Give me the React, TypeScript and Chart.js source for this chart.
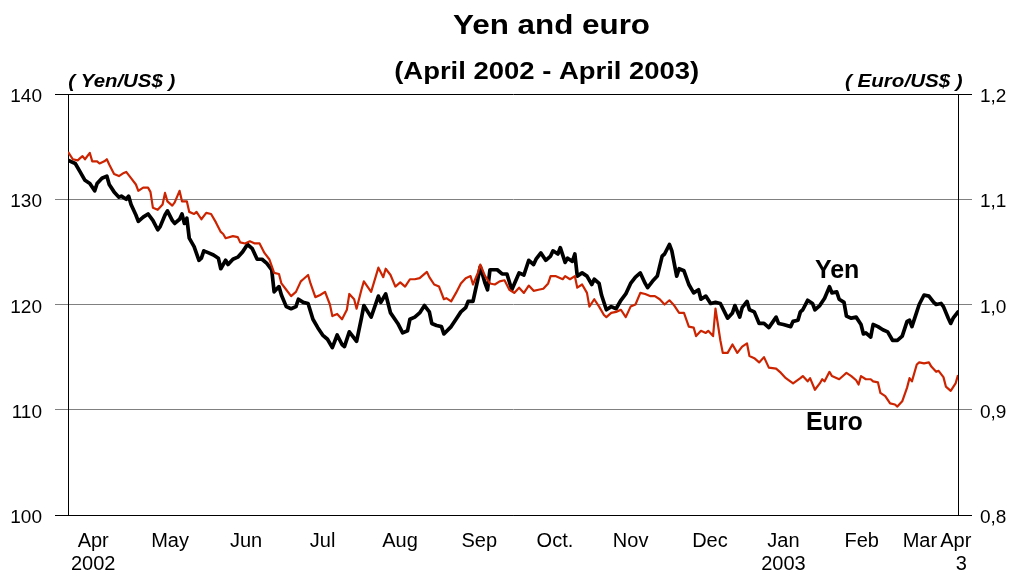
import { useEffect, useRef } from 'react';
import { Chart, registerables } from 'chart.js';

Chart.register(...registerables);

// Calendar days counted from 1 April 2002
const yenDays = [
  0, 3, 5, 7, 9, 11, 12, 14, 16, 17, 19, 21, 22, 24, 25, 26, 28, 29, 31, 33, 35, 37, 38, 40, 41, 43, 44, 46, 47, 48, 49,
  50, 52, 54, 55, 56, 58, 60, 62, 63, 65, 66, 68, 70, 72, 74, 76, 78, 80, 82, 84, 85, 87, 88, 90, 92, 94, 95, 97, 99,
  101, 103, 105, 107, 109, 111, 113, 114, 116, 118, 119, 121, 122, 125, 128, 129, 131, 133, 136, 138, 140, 141, 143,
  145, 147, 149, 150, 152, 154, 155, 158, 160, 162, 164, 165, 167, 169, 170, 172, 173, 174, 177, 179, 181, 183, 186,
  188, 190, 192, 193, 195, 197, 199, 200, 202, 203, 205, 206, 208, 209, 210, 212, 214, 216, 217, 219, 220, 222, 224,
  226, 228, 230, 232, 234, 236, 238, 239, 241, 243, 245, 246, 248, 249, 251, 252, 254, 256, 258, 260, 261, 263, 265,
  267, 269, 272, 274, 275, 277, 278, 280, 281, 283, 285, 287, 289, 292, 293, 295, 298, 299, 301, 302, 303, 305, 307,
  308, 310, 312, 314, 315, 317, 318, 320, 321, 323, 325, 327, 328, 329, 331, 332, 334, 336, 338, 340, 342, 344, 346,
  347, 348, 350, 351, 353, 355, 357, 358, 360, 361, 363, 364, 365, 367,
];
const yenPerDollar = [
  133.7, 133.4, 132.6, 131.8, 131.5, 130.8, 131.5, 132.0, 132.2, 131.4, 130.7, 130.2, 130.3, 130.0, 130.3, 129.5, 128.5,
  127.9, 128.3, 128.6, 128.0, 127.1, 127.4, 128.5, 128.9, 128.0, 127.7, 128.1, 128.6, 127.7, 128.2,
  126.3, 125.5, 124.2, 124.4, 125.1, 124.9, 124.7, 124.4, 123.4, 124.2, 123.8, 124.3, 124.5, 125.0, 125.7, 125.3, 124.3,
  124.3, 123.9, 123.3, 121.2, 121.7, 120.9, 119.8, 119.6, 119.8, 120.5, 120.2, 120.1,
  118.6, 117.8, 117.1, 116.7, 115.9, 117.1, 116.2, 116.0, 117.4, 116.8, 116.5, 118.7, 119.9, 118.8, 120.8, 120.2, 121.0,
  119.2, 118.2, 117.3, 117.5, 118.6, 118.8,
  119.2, 119.9, 119.3, 118.2, 118.0, 117.9, 117.2, 117.9, 118.6, 119.3, 119.7, 120.3, 120.3, 122.4, 123.6, 122.0, 121.4,
  123.3, 123.3, 122.9, 122.9, 121.4, 123.0,
  122.8, 124.2, 123.8, 124.3, 124.9, 124.2, 124.6, 125.1, 124.8, 125.4, 124.0, 124.4, 124.1, 124.8, 122.7, 123.0, 122.7,
  121.9, 122.4, 122.0, 120.9, 119.5, 119.8,
  119.6, 120.4, 121.0, 122.0, 122.6, 123.0, 122.0, 121.6, 122.2, 122.7, 124.6, 124.8, 125.7, 125.1, 122.7, 123.4, 123.2,
  121.9, 121.1, 121.4, 120.5, 120.8, 120.1,
  120.2, 120.1, 118.7, 119.2, 119.9, 118.8, 119.7, 120.3, 119.5, 119.3, 118.2, 118.2, 117.8, 118.8, 118.2, 118.1, 117.9,
  118.4, 118.5, 119.3, 119.5, 120.4, 120.1,
  119.5, 119.9, 120.6, 121.7, 121.1, 121.2, 120.5, 120.2, 118.9, 118.7, 118.8, 118.1, 117.2, 117.3, 116.9, 118.1, 117.9,
  117.6, 117.4, 116.6, 116.6, 117.0, 118.4,
  118.5, 117.9, 119.3, 120.0, 120.9, 120.8, 120.2, 120.0, 120.1, 119.8, 118.7, 118.2, 118.7, 119.3,
];

const euroDays = [
  0, 2, 4, 5, 6, 7, 9, 10, 12, 13, 15, 16, 17, 19, 21, 23, 24, 26, 28, 29, 31, 33, 34, 35, 37, 39, 40, 41, 43, 44, 46,
  47, 49, 50, 52, 53, 55, 57, 59, 61, 63, 64, 65, 68, 70, 71, 73, 75, 77, 79, 81, 83, 85, 87, 88, 90, 92, 94, 96, 97,
  99, 100, 102, 104, 106, 108, 109, 111, 113, 115, 116, 118, 119, 121, 122, 125, 128, 130, 131, 133, 135, 137, 139,
  141, 143, 145, 148, 149, 151, 153, 155, 156, 158, 160, 162, 164, 166, 167, 169, 170, 172, 174, 176, 178, 180, 182,
  184, 186, 188, 190, 192, 194, 196, 198, 199, 201, 204, 205, 207, 209, 210, 212, 214, 215, 217, 219, 221, 222, 224,
  226, 228, 230, 232, 234, 236, 238, 240, 242, 244, 246, 248, 250, 252, 254, 256, 258, 259, 261, 263, 264, 266, 267,
  269, 270, 272, 274, 276, 278, 280, 281, 283, 285, 287, 289, 292, 294, 296, 299, 302, 303, 305, 306, 308, 310, 311,
  312, 314, 315, 318, 320, 321, 323, 325, 326, 327, 329, 331, 332, 334, 335, 337, 339, 341, 342, 344, 346, 347, 348,
  350, 351, 353, 355, 356, 358, 359, 361, 362, 364, 366, 367,
];
const euroPerDollar = [
  1.145, 1.138, 1.137, 1.139, 1.141, 1.138, 1.144, 1.136, 1.136, 1.134, 1.136, 1.138, 1.133, 1.124, 1.122, 1.125, 1.126,
  1.12, 1.114, 1.108, 1.111, 1.111, 1.107, 1.092, 1.09, 1.095, 1.106, 1.098, 1.094, 1.097, 1.108,
  1.098, 1.098, 1.088, 1.086, 1.088, 1.081, 1.087, 1.086, 1.078, 1.069, 1.067, 1.063, 1.065, 1.064, 1.059, 1.058, 1.06,
  1.058, 1.058, 1.049, 1.043, 1.03, 1.029, 1.02, 1.014, 1.008, 1.012, 1.022, 1.024,
  1.028, 1.02, 1.007, 1.009, 1.012, 1.0, 0.989, 0.991, 0.986, 0.995, 1.01, 1.005, 0.996, 1.014, 1.022, 1.012, 1.035,
  1.026, 1.034, 1.028, 1.017, 1.021, 1.017,
  1.024, 1.024, 1.025, 1.031, 1.026, 1.019, 1.017, 1.005, 1.006, 1.003, 1.011, 1.02, 1.025, 1.027, 1.019, 1.03, 1.038,
  1.027, 1.02, 1.019, 1.022, 1.023, 1.014,
  1.011, 1.016, 1.011, 1.018, 1.013, 1.014, 1.015, 1.02, 1.027, 1.027, 1.024, 1.027, 1.024, 1.027, 1.016, 1.019, 1.011,
  0.998, 1.005, 0.998, 0.99, 0.988, 0.992,
  0.993, 0.995, 0.988, 0.998, 1.0, 1.011, 1.01, 1.008, 1.008, 1.005, 1.0, 1.004, 0.999, 0.992, 0.992, 0.979, 0.978,
  0.97, 0.975, 0.973, 0.975, 0.97, 0.996,
  0.966, 0.954, 0.954, 0.962, 0.954, 0.96, 0.963, 0.951, 0.949, 0.945, 0.95, 0.94, 0.939, 0.935, 0.93, 0.925, 0.93,
  0.932, 0.927, 0.93, 0.919, 0.925, 0.929,
  0.927, 0.936, 0.932, 0.929, 0.933, 0.935, 0.932, 0.928, 0.924, 0.932, 0.929, 0.929, 0.927, 0.926, 0.916, 0.913,
  0.906, 0.905, 0.903, 0.908, 0.921, 0.93, 0.927,
  0.943, 0.945, 0.944, 0.945, 0.941, 0.936, 0.937, 0.931, 0.922, 0.918, 0.925, 0.933,
];

const monthTickDays = [10.4, 42.1, 73.4, 105.0, 136.9, 169.6, 200.8, 232.0, 264.7, 295.0, 327.3, 351.3, 366.1];
const monthTickLabels: (string | string[])[] = [
  ['Apr', '2002'], 'May', 'Jun', 'Jul', 'Aug', 'Sep', 'Oct.', 'Nov', 'Dec', ['Jan', '2003'], 'Feb', 'Mar', ['Apr', '  3'],
];

const FONT = '"Liberation Sans", Arial, Helvetica, sans-serif';
const RED = 'rgb(204,36,0)';

function drawFitted(
  ctx: CanvasRenderingContext2D,
  text: string,
  x: number,
  baseline: number,
  font: string,
  targetWidth: number,
  align: 'left' | 'center' | 'right'
) {
  ctx.save();
  ctx.font = font;
  const w = ctx.measureText(text).width;
  const sx = targetWidth / w;
  ctx.translate(x, baseline);
  ctx.scale(sx, 1);
  ctx.textAlign = align;
  ctx.textBaseline = 'alphabetic';
  ctx.fillStyle = '#000';
  ctx.fillText(text, 0, 0);
  ctx.restore();
}

const textPlugin = {
  id: 'chartTexts',
  afterDraw(chart: any) {
    const ctx: CanvasRenderingContext2D = chart.ctx;
    const xs = chart.scales.x;
    const ys = chart.scales.y;
    drawFitted(ctx, 'Yen and euro', 551.5, 33.5, `bold 28px ${FONT}`, 197, 'center');
    drawFitted(ctx, '(April 2002 - April 2003)', 546.7, 79, `bold 24px ${FONT}`, 305, 'center');
    drawFitted(ctx, '( Yen/US$ )', 68.3, 86.5, `italic bold 19px ${FONT}`, 107, 'left');
    drawFitted(ctx, '( Euro/US$ )', 962.7, 86.5, `italic bold 19px ${FONT}`, 117.7, 'right');
    ctx.save();
    ctx.font = `bold 25px ${FONT}`;
    ctx.fillStyle = '#000';
    ctx.textAlign = 'left';
    ctx.textBaseline = 'alphabetic';
    ctx.fillText('Yen', xs.getPixelForValue(308), ys.getPixelForValue(122.5));
    ctx.fillText('Euro', xs.getPixelForValue(304.3), ys.getPixelForValue(108.1));
    ctx.restore();
  },
};

const edgeColor = (v: number, a: number, b: number) =>
  Math.abs(v - a) < 1e-6 || Math.abs(v - b) < 1e-6 ? '#000000' : '#808080';

export default function App() {
  const ref = useRef<HTMLCanvasElement | null>(null);

  useEffect(() => {
    if (!ref.current) return;
    const chart = new Chart(ref.current, {
      type: 'line',
      data: {
        datasets: [
          {
            label: 'Euro',
            data: euroDays.map((d, i) => ({ x: d, y: euroPerDollar[i] })),
            yAxisID: 'y1',
            borderColor: RED,
            borderWidth: 2.2,
            pointRadius: 0,
            tension: 0,
            borderJoinStyle: 'round',
            fill: false,
          },
          {
            label: 'Yen',
            data: yenDays.map((d, i) => ({ x: d, y: yenPerDollar[i] })),
            yAxisID: 'y',
            borderColor: '#000000',
            borderWidth: 3.7,
            pointRadius: 0,
            tension: 0,
            borderJoinStyle: 'round',
            borderCapStyle: 'round',
            fill: false,
          },
        ],
      },
      options: {
        responsive: false,
        animation: false,
        events: [],
        layout: { padding: { top: 94, left: 0, right: 0, bottom: 0 } },
        plugins: {
          legend: { display: false },
          title: { display: false },
          tooltip: { enabled: false },
        },
        scales: {
          x: {
            type: 'linear',
            min: 0,
            max: 367,
            grid: { display: false, drawTicks: false },
            border: { display: true, color: '#000000', width: 1 },
            afterBuildTicks: (scale: any) => {
              scale.ticks = monthTickDays.map((v) => ({ value: v }));
            },
            afterFit: (scale: any) => {
              scale.height = 59;
            },
            ticks: {
              autoSkip: false,
              maxRotation: 0,
              minRotation: 0,
              padding: 15,
              color: '#000000',
              font: { family: FONT, size: 20, lineHeight: 1.15 },
              callback: (_v: any, i: number) => monthTickLabels[i],
            },
          },
          y: {
            position: 'left',
            min: 100,
            max: 140,
            afterFit: (scale: any) => {
              scale.width = 68;
            },
            grid: {
              color: (c: any) => edgeColor(c.tick.value, 100, 140),
              lineWidth: 1,
              tickLength: 13,
              drawTicks: true,
            },
            border: { display: true, color: '#000000', width: 1 },
            ticks: {
              stepSize: 10,
              padding: 13,
              labelOffset: 3,
              color: '#000000',
              font: { family: FONT, size: 19 },
            },
          },
          y1: {
            position: 'right',
            min: 0.8,
            max: 1.2,
            afterFit: (scale: any) => {
              scale.width = 59;
            },
            grid: {
              drawOnChartArea: false,
              color: (c: any) => edgeColor(c.tick.value, 0.8, 1.2),
              lineWidth: 1,
              tickLength: 14,
              drawTicks: true,
            },
            border: { display: true, color: '#000000', width: 1 },
            ticks: {
              stepSize: 0.1,
              padding: 8,
              labelOffset: 3,
              color: '#000000',
              font: { family: FONT, size: 19 },
              callback: (v: any) => Number(v).toFixed(1).replace('.', ','),
            },
          },
        },
      },
      plugins: [textPlugin],
    } as any);
    return () => chart.destroy();
  }, []);

  return (
    <div style={{ position: 'absolute', left: 0, top: 0, width: 1017, height: 574, background: '#ffffff' }}>
      <canvas ref={ref} width={1017} height={574} style={{ display: 'block' }} />
    </div>
  );
}
